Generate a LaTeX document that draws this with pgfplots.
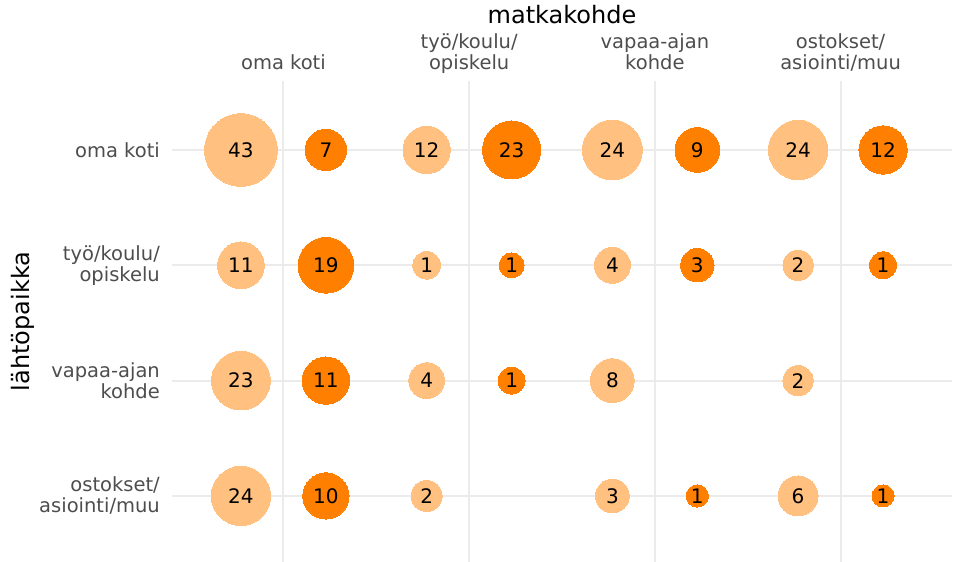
\documentclass[border=0pt]{standalone}
\usepackage{fontspec}
\setmainfont{DejaVu Sans}
\usepackage{pgfplots}
\pgfplotsset{compat=1.18}
\usepackage{pgfplotstable}
\definecolor{vaalea}{RGB}{255,192,128}
\definecolor{tumma}{RGB}{255,127,0}
\definecolor{ruudukko}{RGB}{235,235,235}
\definecolor{teksti}{RGB}{77,77,77}

% d = matkakohde (1..4), r = lähtöpaikka (4 = oma koti ylimpänä),
% n = luku ympyrässä, h = ympyrän halkaisija (px kuvasta)
\pgfplotstableread{
d r n h
1 4 43 72.7
2 4 12 47.3
3 4 24 59.7
4 4 24 59.3
1 3 11 46.7
2 3 1 27.7
3 3 4 36.0
4 3 2 30.3
1 2 23 58.7
2 2 4 35.7
3 2 8 43.7
4 2 2 30.3
1 1 24 59.3
2 1 2 31.0
3 1 3 33.7
4 1 6 40.0
}\vaaleadata

\pgfplotstableread{
d r n h
1 4 7 41.3
2 4 23 58.0
3 4 9 44.7
4 4 12 48.3
1 3 19 55.7
2 3 1 25.0
3 3 3 33.3
4 3 1 27.0
1 2 11 47.3
2 2 1 27.0
1 1 10 46.3
3 1 1 22.3
4 1 1 22.0
}\tummadata

\newcommand{\lbl}{\fontsize{19.5bp}{21bp}\selectfont}
\newcommand{\nro}{\fontsize{20bp}{22bp}\selectfont}
\newcommand{\otsikko}{\fontsize{24bp}{28bp}\selectfont}

\pgfplotsset{
  kupla/.style={
    scatter, only marks, mark=*,
    scatter/use mapped color={draw=#1, fill=#1, line width=0pt},
    mark options={draw=#1, fill=#1, line width=0pt},
    visualization depends on={\thisrow{h} \as \halk},
    scatter/@pre marker code/.append style={/tikz/mark size=\halk*0.501875},
  },
  luku/.style={
    only marks, mark=none,
    point meta=\thisrow{n},
    nodes near coords,
    every node near coord/.append style={anchor=center, inner sep=0pt, font=\nro, text=black},
  },
}

\begin{document}
\begin{tikzpicture}
\begin{axis}[
  scale only axis, width=780bp, height=481.2bp,
  xmin=0.4, xmax=4.6, ymin=0.427, ymax=4.6,
  axis line style={draw=none},
  major tick length=0pt,
  /pgf/number format/assume math mode=true,
  xtick={1,2,3,4},
  xticklabels={{oma koti},{työ/koulu/\\opiskelu},{vapaa-ajan\\kohde},{ostokset/\\asiointi/muu}},
  xticklabel pos=top,
  xticklabel style={align=center, anchor=south, text depth=0pt, inner sep=0pt, yshift=11.3bp},
  ytick={1,2,3,4},
  yticklabels={{ostokset/\\asiointi/muu},{vapaa-ajan\\kohde},{työ/koulu/\\opiskelu},{oma koti}},
  yticklabel style={align=right, anchor=east, inner sep=0pt, xshift=-12bp},
  every tick label/.append style={font=\lbl, text=teksti},
  xmajorgrids, ymajorgrids,
  grid style={ruudukko, line width=2bp},
  clip=false,
]
\addplot[kupla=vaalea] table[x expr=\thisrow{d}-0.2288, y=r] \vaaleadata;
\addplot[kupla=tumma] table[x expr=\thisrow{d}+0.2288, y=r] \tummadata;
\addplot[luku] table[x expr=\thisrow{d}-0.2288, y=r] \vaaleadata;
\addplot[luku] table[x expr=\thisrow{d}+0.2288, y=r] \tummadata;

\node[anchor=base, font=\otsikko, yshift=56.8bp] at (rel axis cs:0.5,1) {matkakohde};
\node[xshift=-142bp, rotate=90, anchor=base, font=\otsikko] at (rel axis cs:0,0.5) {lähtöpaikka};
\coordinate (pv) at (rel axis cs:0,0);
\end{axis}
\pgfresetboundingbox
\path[use as bounding box] (pv) ++(-172bp,0) rectangle ++(961bp,562bp);
\end{tikzpicture}
\end{document}
